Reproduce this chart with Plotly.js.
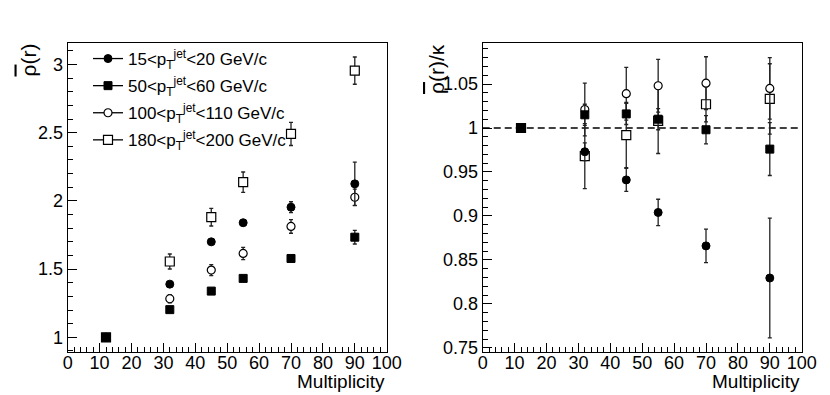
<!DOCTYPE html>
<html>
<head>
<meta charset="utf-8">
<script src="https://cdn.plot.ly/plotly-3.0.1.min.js"></script>
<style>
  html, body { margin: 0; padding: 0; background: #fff; }
  #plot { width: 830px; height: 395px; }
</style>
</head>
<body>
<div id="plot"></div>
<script>
// multiplicity bins (same for every pT range)
const multiplicity = [12, 32, 45, 55, 70, 90];

const seriesNames = [
  "15&lt;p<sub>T</sub><sup>jet</sup>&lt;20 GeV/c",
  "50&lt;p<sub>T</sub><sup>jet</sup>&lt;60 GeV/c",
  "100&lt;p<sub>T</sub><sup>jet</sup>&lt;110 GeV/c",
  "180&lt;p<sub>T</sub><sup>jet</sup>&lt;200 GeV/c"
];

// left panel: rho'(r)
const rho15 = [1.0, 1.39, 1.70, 1.84, 1.954, 2.125];
const rho15Err = [0.005, 0.01, 0.012, 0.02, 0.04, 0.16];
const rho50 = [1.0, 1.203, 1.339, 1.432, 1.578, 1.734];
const rho50Err = [0.005, 0.01, 0.01, 0.01, 0.015, 0.05];
const rho100 = [1.0, 1.283, 1.493, 1.615, 1.813, 2.027];
const rho100Err = [0.005, 0.03, 0.04, 0.045, 0.05, 0.06];
const rho180 = [1.0, 1.556, 1.881, 2.137, 2.491, 2.955];
const rho180Err = [0.005, 0.055, 0.065, 0.075, 0.085, 0.1];

// right panel: rho'(r)/kappa
const ratio15 = [1.0, 0.973, 0.941, 0.904, 0.866, 0.8295];
const ratio15Err = [0.002, 0.01, 0.013, 0.015, 0.019, 0.068];
const ratio50 = [1.0, 1.015, 1.016, 1.010, 0.998, 0.976];
const ratio50Err = [0.002, 0.012, 0.012, 0.012, 0.016, 0.03];
const ratio100 = [1.0, 1.021, 1.039, 1.048, 1.051, 1.045];
const ratio100Err = [0.002, 0.03, 0.03, 0.03, 0.03, 0.035];
const ratio180 = [1.0, 0.968, 0.992, 1.008, 1.027, 1.033];
const ratio180Err = [0.002, 0.037, 0.037, 0.037, 0.02, 0.04];

const unityLine = { x: [0, 100], y: 1 };

const leftTicks = [1, 1.5, 2, 2.5, 3];
const leftTickText = ["1", "1.5", "2", "2.5", "3"];
const rightTicks = [0.75, 0.8, 0.85, 0.9, 0.95, 1, 1.05];
const rightTickText = ["0.75", "0.8", "0.85", "0.9", "0.95", "1", "1.05"];

const markerStyles = [
  { symbol: "circle", size: 8, color: "#000", line: { color: "#000", width: 1 } },
  { symbol: "square", size: 8, color: "#000", line: { color: "#000", width: 1 } },
  { symbol: "circle", size: 8, color: "#fff", line: { color: "#000", width: 1.2 } },
  { symbol: "square", size: 9, color: "#fff", line: { color: "#000", width: 1.2 } }
];

const leftData = [[rho15, rho15Err], [rho50, rho50Err], [rho100, rho100Err], [rho180, rho180Err]];
const rightData = [[ratio15, ratio15Err], [ratio50, ratio50Err], [ratio100, ratio100Err], [ratio180, ratio180Err]];

function errTrace(vals, errs, i, xa, ya) {
  return {
    x: multiplicity, y: vals, xaxis: xa, yaxis: ya,
    type: "scatter", mode: "markers", showlegend: false,
    marker: markerStyles[i],
    error_y: { type: "data", array: errs, color: "#222", thickness: 1.3, width: 2 },
    cliponaxis: false
  };
}

const traces = [];
// filled square is drawn last (it hides the others at the first bin)
[3, 2, 0, 1].forEach(i => {
  traces.push(errTrace(leftData[i][0], leftData[i][1], i, "x", "y"));
  traces.push(errTrace(rightData[i][0], rightData[i][1], i, "x2", "y2"));
});

// legend entries with line + marker
seriesNames.forEach((name, i) => {
  traces.push({
    x: [null], y: [null], type: "scatter", mode: "lines+markers",
    name: name, legendgroup: "g" + i, showlegend: true,
    marker: markerStyles[i], line: { color: "#000", width: 1.3 }
  });
});

const font = { family: "Liberation Sans, Arial, sans-serif", size: 18, color: "#000" };

function xAxis(dom, anchor) {
  return {
    domain: dom, anchor: anchor, range: [0, 100],
    tickmode: "linear", tick0: 0, dtick: 10,
    ticks: "inside", ticklen: 9, tickwidth: 1, tickcolor: "#000",
    minor: { dtick: 2, tick0: 0, ticks: "inside", ticklen: 5, tickwidth: 1, tickcolor: "#000" },
    showline: true, linecolor: "#000", linewidth: 1, mirror: true,
    showgrid: false, zeroline: false, tickfont: font, ticklabelstandoff: -6
  };
}

function yAxis(range, tv, tt, minorStep, anchor) {
  return {
    domain: [0.108, 0.892], anchor: anchor, range: range,
    tickmode: "array", tickvals: tv, ticktext: tt,
    ticks: "inside", ticklen: 9, tickwidth: 1, tickcolor: "#000",
    minor: { tickmode: "linear", dtick: minorStep, tick0: 0, ticks: "inside", ticklen: 5, tickwidth: 1, tickcolor: "#000" },
    showline: true, linecolor: "#000", linewidth: 1, mirror: true,
    showgrid: false, zeroline: false, tickfont: font
  };
}

const rhoBar = '<span style="text-decoration:overline">ρ</span>';

const layout = {
  width: 830, height: 395,
  margin: { l: 0, r: 0, t: 0, b: 0 },
  paper_bgcolor: "#fff", plot_bgcolor: "#fff",
  font: font,
  showlegend: true,
  legend: {
    x: 88 / 830, y: 1 - 41 / 395, xanchor: "left", yanchor: "top",
    bgcolor: "rgba(0,0,0,0)", borderwidth: 0,
    font: { family: font.family, size: 17, color: "#000" },
    tracegroupgap: 2
  },
  xaxis: xAxis([0.0816, 0.4659], "y"),
  yaxis: yAxis([0.89, 3.16], leftTicks, leftTickText, 0.1, "x"),
  xaxis2: xAxis([0.5816, 0.9659], "y2"),
  yaxis2: yAxis([0.745, 1.097], rightTicks, rightTickText, 0.01, "x2"),
  shapes: [{
    type: "line", xref: "x2", yref: "y2",
    x0: unityLine.x[0], x1: unityLine.x[1], y0: unityLine.y, y1: unityLine.y,
    line: { color: "#000", width: 1.3, dash: "7px,4px" }, layer: "below"
  }],
  annotations: [
    { text: "Multiplicity", xref: "paper", yref: "paper", x: 0.4659, y: 1 - 381 / 395,
      xanchor: "right", yanchor: "middle", showarrow: false, font: { family: font.family, size: 19 } },
    { text: "Multiplicity", xref: "paper", yref: "paper", x: 0.9659, y: 1 - 381 / 395,
      xanchor: "right", yanchor: "middle", showarrow: false, font: { family: font.family, size: 19 } },
    { text: rhoBar + "(r)", xref: "paper", yref: "paper", x: 28 / 830, y: 1 - 42 / 395,
      xanchor: "center", yanchor: "top", textangle: -90, showarrow: false, font: { family: font.family, size: 21 } },
    { text: rhoBar + "(r)/κ", xref: "paper", yref: "paper", x: 436 / 830, y: 1 - 42 / 395,
      xanchor: "center", yanchor: "top", textangle: -90, showarrow: false, font: { family: font.family, size: 21 } }
  ]
};

Plotly.newPlot("plot", traces, layout, { displayModeBar: false, staticPlot: true });
</script>
</body>
</html>
